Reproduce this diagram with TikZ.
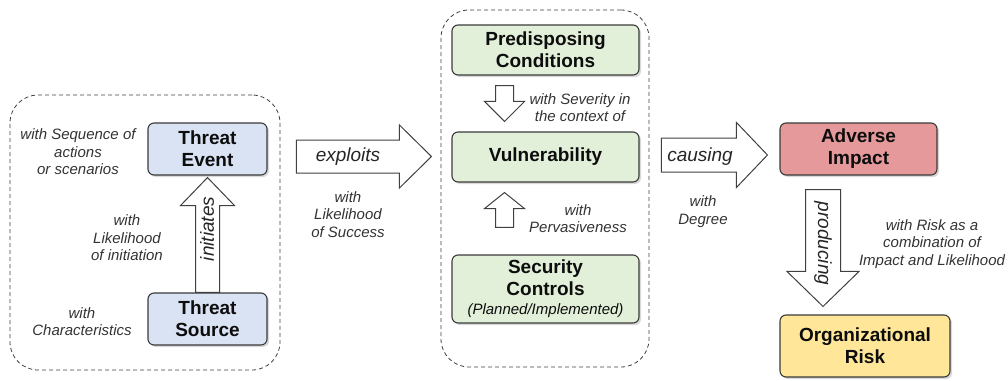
\documentclass[tikz,border=0pt]{standalone}
\usepackage{fontspec}
\setmainfont{Liberation Sans}
\usetikzlibrary{calc,shadows}
\definecolor{tblue}{HTML}{DAE3F3}
\definecolor{tgreen}{HTML}{E2EFD9}
\definecolor{tred}{HTML}{E6999A}
\definecolor{tyellow}{HTML}{FFE699}
\definecolor{boxline}{HTML}{3A3A3A}
\tikzset{
 box/.style={draw=boxline, line width=1.1pt, rounded corners=6pt, align=center,
   font=\bfseries\fontsize{19}{22}\selectfont, text=black!95, inner sep=2pt,
   drop shadow={shadow xshift=2pt, shadow yshift=-2pt, opacity=0.3}},
 grp/.style={draw=black!75, dash pattern=on 4pt off 3pt, line width=0.8pt, rounded corners=28pt},
 lbl/.style={font=\itshape\fontsize{15}{17.5}\selectfont, align=center, text=black!80},
 alab/.style={font=\itshape\fontsize{19}{22}\selectfont, text=black!85},
 barrow/.style={draw=black!75, line width=1pt, fill=white, line join=miter},
}
% #1 start, #2 end, #3 shaft half width, #4 head half width, #5 head length
\newcommand\blockarrow[5]{%
 \coordinate (hb) at ($(#2)!#5!(#1)$);
 \draw[barrow] ($(#1)!#3!90:(#2)$) -- ($(hb)!#3!90:(#2)$) -- ($(hb)!#4!90:(#2)$) -- (#2)
   -- ($(hb)!#4!-90:(#2)$) -- ($(hb)!#3!-90:(#2)$) -- ($(#1)!#3!-90:(#2)$) -- cycle;}
\begin{document}
\begin{tikzpicture}[x=1pt,y=1pt]
\useasboundingbox (0,0) rectangle (1008,-380);
% groups
\node[grp, minimum width=270pt, minimum height=275pt] (LG) at (145,-232.5) {};
\node[grp, minimum width=208pt, minimum height=357pt] (MG) at (545,-188.5) {};
% boxes
\node[box, fill=tblue, minimum width=119pt, minimum height=52pt] (TE) at (207.5,-149) {Threat\\Event};
\node[box, fill=tblue, minimum width=119pt, minimum height=52pt] (TS) at (207.5,-319) {Threat\\Source};
\node[box, fill=tgreen, minimum width=187pt, minimum height=50pt] (PC) at (545.5,-50) {Predisposing\\Conditions};
\node[box, fill=tgreen, minimum width=187pt, minimum height=50pt] (V) at (545.5,-157) {Vulnerability};
\node[box, fill=tgreen, minimum width=187pt, minimum height=68pt] (SC) at (545.5,-289) {Security\\Controls\\[-3pt]{\mdseries\itshape\fontsize{15}{17}\selectfont (Planned/Implemented)}};
\node[box, fill=tred, minimum width=157pt, minimum height=52pt] (AI) at (858.5,-149) {Adverse\\Impact};
\node[box, fill=tyellow, minimum width=170pt, minimum height=62pt] (OR) at (865,-346) {Organizational\\Risk};
% arrow end points
\coordinate (i1) at (TS.north);
\coordinate (i2) at ($(TE.south)+(0,-2)$);
\coordinate (e1) at ($(LG.east |- V.center)+(16,0.5)$);
\coordinate (e2) at ($(V.west)+(-20,0.5)$);
\coordinate (p1) at ($(PC.south)+(-41,-10)$);
\coordinate (p2) at ($(V.north)+(-41,10)$);
\coordinate (s1) at ($(SC.north)+(-41,27)$);
\coordinate (s2) at ($(V.south)+(-41,-10)$);
\coordinate (c1) at ($(MG.east |- V.center)+(12,2)$);
\coordinate (c2) at ($(AI.west)+(-12,-6)$);
\coordinate (r1) at ($(AI.south)+(-35.5,-14)$);
\coordinate (r0) at ($(OR.north)+(0,8)$);
\coordinate (r2) at (r1 |- r0);
% block arrows
\blockarrow{i1}{i2}{12pt}{27pt}{28pt}
\node[alab, rotate=90] at (207,-229) {initiates};
\blockarrow{e1}{e2}{16.5pt}{31.5pt}{32pt}
\node[alab] at (348,-157) {exploits};
\blockarrow{p1}{p2}{9pt}{20pt}{20pt}
\blockarrow{s1}{s2}{9pt}{20pt}{16pt}
\blockarrow{c1}{c2}{17pt}{32.5pt}{31pt}
\node[alab] at (700,-157) {causing};
\blockarrow{r1}{r2}{17.5pt}{36pt}{35pt}
\node[alab, rotate=-90] at (823,-243.5) {producing};
% labels
\node[lbl] (l1) at (78,-152) {with Sequence of\\actions\\or scenarios};
\node[lbl] (l2) at (127,-238) {with\\Likelihood\\of initiation};
\node[lbl] (l3) at (82,-321.5) {with\\Characteristics};
\node[lbl] (l4) at (348,-214.5) {with\\Likelihood\\of Success};
\node[lbl] (l5) at (580,-107.5) {with Severity in\\the context of};
\node[lbl] (l6) at (578,-218.5) {with\\Pervasiveness};
\node[lbl] (l7) at (703,-211.5) {with\\Degree};
\node[lbl] (l8) at (932,-244) {with Risk as a\\combination of\\Impact and Likelihood};
\end{tikzpicture}
\end{document}
